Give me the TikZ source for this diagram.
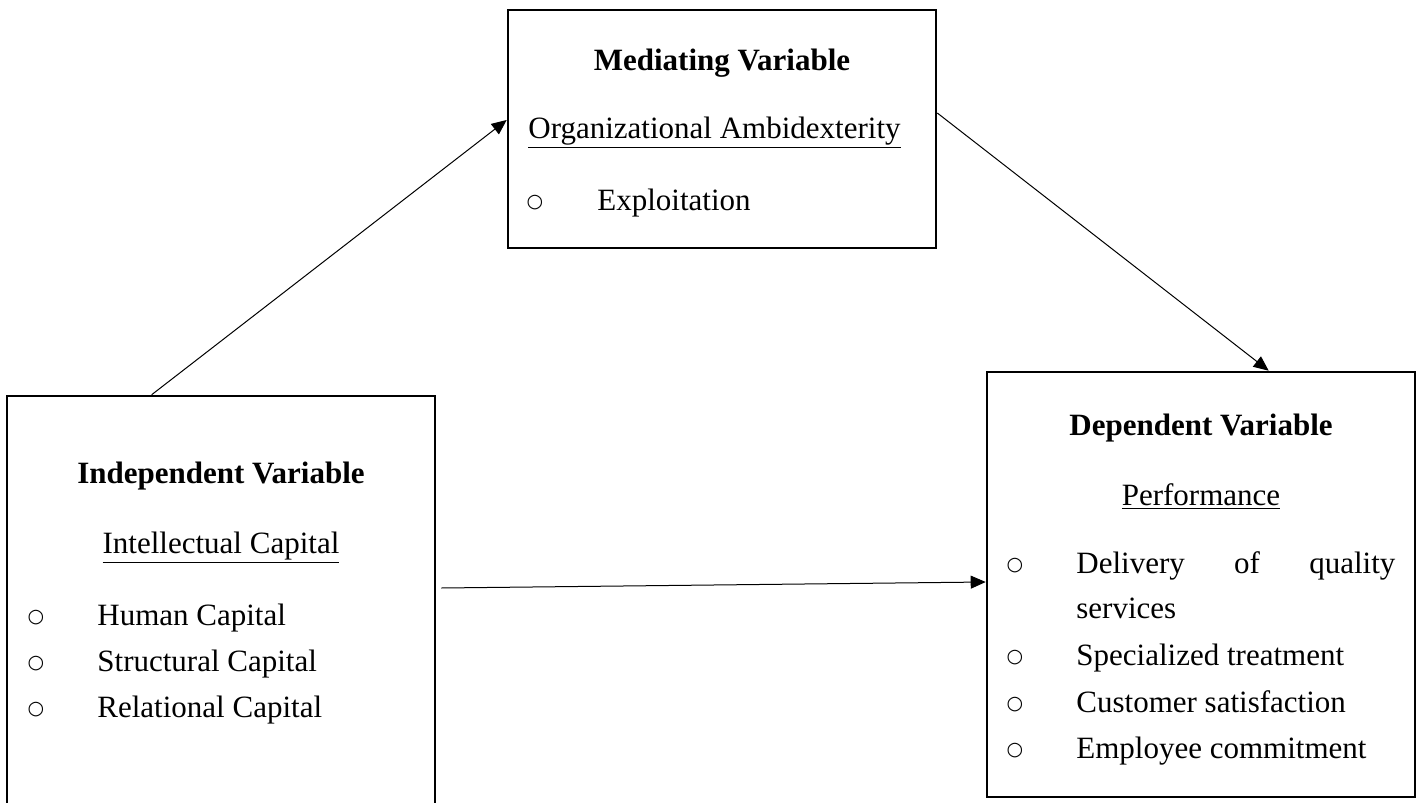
\documentclass[tikz,border=0pt]{standalone}
\usepackage{fontspec}
\setmainfont{Liberation Serif}
\newfontfamily\bulletfont{DejaVu Sans}
\usetikzlibrary{arrows.meta}

\newcommand{\listmark}{\raisebox{1.5pt}{\bulletfont\fontsize{9.5}{9.5}\selectfont ○}}

\begin{document}
\begin{tikzpicture}[x=0.5pt,y=-0.5pt,
	font=\fontsize{15.5}{23}\selectfont,
	varbox/.style={draw=black, line width=1.3pt, minimum width=214pt, inner sep=0pt},
	link/.style={draw=black, line width=0.5pt, -{Triangle[length=7.5pt,width=6.5pt]}}]
	\useasboundingbox (0,0) rectangle (1420,803);
	\begin{scope}[every node/.style={varbox}]
		\node[minimum height=119pt]   (med)   at (722,129)    {};
		\node[minimum height=208pt]   (indep) at (221,604)    {};
		\node[minimum height=212.5pt] (dep)   at (1201,584.5) {};
	\end{scope}
	\begin{scope}[every node/.style={inner sep=0pt}]
		% mediating variable
		\node[anchor=base]      (medtitle) at (722,70)  {\textbf{Mediating Variable}};
		\node[anchor=base west] (medsub)   at (528,138) {\underline{Organizational Ambidexterity}};
		\node[anchor=base]      (medb1)    at (535,210) {\listmark};
		\node[anchor=base west] (medi1)    at (597,210) {Exploitation};
		% independent variable
		\node[anchor=base]      (indtitle) at (221,483) {\textbf{Independent Variable}};
		\node[anchor=base]      (indsub)   at (221,553) {\underline{Intellectual Capital}};
		\node[anchor=base]      (indb1)    at (36,625)  {\listmark};
		\node[anchor=base]      (indb2)    at (36,671)  {\listmark};
		\node[anchor=base]      (indb3)    at (36,717)  {\listmark};
		\node[anchor=base west] (indi1)    at (97,625)  {Human Capital};
		\node[anchor=base west] (indi2)    at (97,671)  {Structural Capital};
		\node[anchor=base west] (indi3)    at (97,717)  {Relational Capital};
		% dependent variable
		\node[anchor=base]      (deptitle) at (1201,435) {\textbf{Dependent Variable}};
		\node[anchor=base]      (depsub)   at (1201,505) {\underline{Performance}};
		\node[anchor=base]      (depb1)    at (1015,573) {\listmark};
		\node[anchor=base]      (depb2)    at (1015,665) {\listmark};
		\node[anchor=base]      (depb3)    at (1015,712) {\listmark};
		\node[anchor=base]      (depb4)    at (1015,758) {\listmark};
		\node[anchor=base west] (depi1)    at (1076,573) {\makebox[159.5pt][s]{Delivery of quality}};
		\node[anchor=base west] (depi1b)   at (1076,618) {services};
		\node[anchor=base west] (depi2)    at (1076,665) {Specialized treatment};
		\node[anchor=base west] (depi3)    at (1076,712) {Customer satisfaction};
		\node[anchor=base west] (depi4)    at (1076,758) {Employee commitment};
	\end{scope}
	\draw[link] ([xshift=73pt]indep.north west) -- ([yshift=4.5pt]med.west);
	\draw[link] ([yshift=8pt]med.east) -- ([xshift=141.5pt]dep.north west);
	\draw[link] ([xshift=2.5pt,yshift=8pt]indep.east) -- ([yshift=1.25pt]dep.west);
\end{tikzpicture}
\end{document}
